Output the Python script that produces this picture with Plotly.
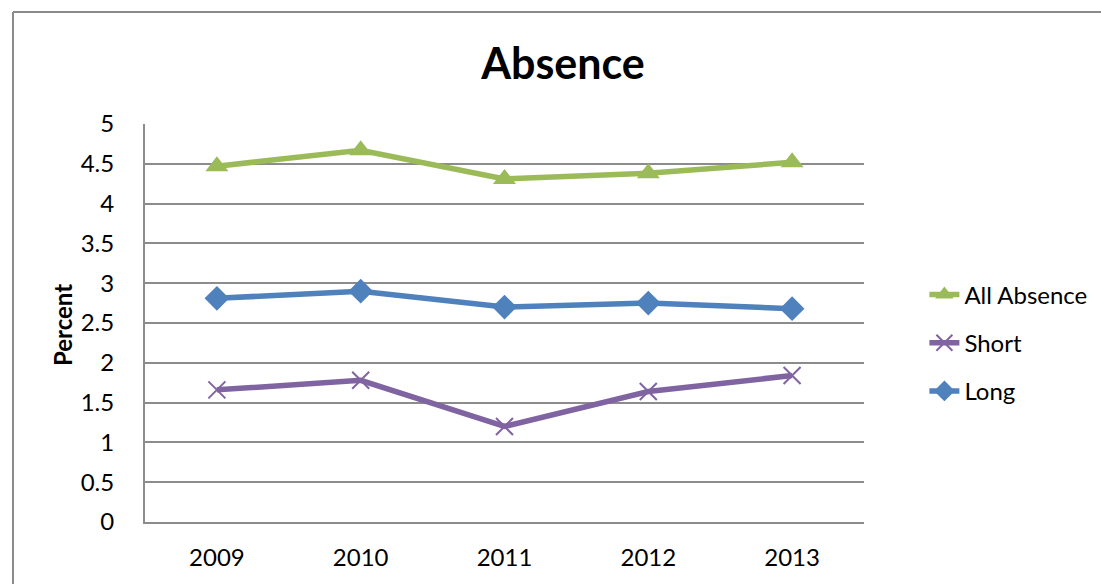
import plotly.graph_objects as go

years = ["2009", "2010", "2011", "2012", "2013"]
all_absence = [4.47, 4.67, 4.31, 4.38, 4.52]
short_abs = [1.66, 1.78, 1.20, 1.64, 1.84]
long_abs = [2.81, 2.90, 2.70, 2.75, 2.68]
y_ticks = [0, 0.5, 1, 1.5, 2, 2.5, 3, 3.5, 4, 4.5, 5]
y_labels = ["0", "0.5", "1", "1.5", "2", "2.5", "3", "3.5", "4", "4.5", "5"]

GREEN = "#9BBB59"
PURPLE = "#8064A2"
BLUE = "#4F81BD"
GRID = "#8C8C8C"
FONT = "Lato, 'Open Sans', sans-serif"

fig = go.Figure()
fig.add_trace(go.Scatter(
    x=years, y=all_absence, name="All Absence", mode="lines+markers",
    legendgroup="a",
    line=dict(color=GREEN, width=5.5),
    marker=dict(symbol="triangle-up", size=20, color=GREEN),
))
fig.add_trace(go.Scatter(
    x=years, y=short_abs, name="Short", mode="lines+markers",
    legendgroup="s",
    line=dict(color=PURPLE, width=5.5),
    marker=dict(symbol="x-thin", size=17, color=PURPLE,
                line=dict(color=PURPLE, width=2)),
))
fig.add_trace(go.Scatter(
    x=years, y=long_abs, name="Long", mode="lines+markers",
    legendgroup="l",
    line=dict(color=BLUE, width=5.5),
    marker=dict(symbol="diamond", size=19, color=BLUE),
))

# chart frame (left and top edges visible)
fl, ft = -0.1836, 1.2814
fig.add_shape(type="line", xref="paper", yref="paper", x0=fl, x1=fl, y0=-0.3, y1=ft,
              line=dict(color="#8A8A8A", width=2))
fig.add_shape(type="line", xref="paper", yref="paper", x0=fl, x1=1.5, y0=ft, y1=ft,
              line=dict(color="#8A8A8A", width=2))

# y-axis title
fig.add_annotation(text="<b>Percent</b>", xref="paper", yref="paper",
                   x=-0.114, y=0.495, xanchor="center", yanchor="middle",
                   textangle=-90, showarrow=False,
                   font=dict(family=FONT, size=24, color="black"))

fig.update_layout(
    width=1101, height=584,
    margin=dict(l=145, r=237, t=124, b=62, autoexpand=False),
    paper_bgcolor="white", plot_bgcolor="white",
    font=dict(family=FONT, color="black", size=24),
    title=dict(text="<b>Absence</b>", x=563 / 1101, xanchor="center",
               y=1 - 64 / 584, yanchor="middle",
               font=dict(family=FONT, size=43, color="black")),
    showlegend=True,
    legend=dict(x=1.084, xanchor="left", y=0.45, yanchor="middle",
                font=dict(family=FONT, size=24, color="black"),
                tracegroupgap=14, bgcolor="rgba(0,0,0,0)",
                itemsizing="trace"),
    xaxis=dict(
        type="category", range=[-0.5, 4.5], automargin=False,
        showgrid=False, showline=True, linecolor=GRID, linewidth=2,
        ticks="", ticklabelstandoff=13,
        tickfont=dict(family=FONT, size=24, color="black"),
    ),
    yaxis=dict(
        range=[0, 5], tickvals=y_ticks, ticktext=y_labels, automargin=False,
        showgrid=True, gridcolor=GRID, gridwidth=1.5,
        showline=True, linecolor=GRID, linewidth=2,
        zeroline=False, ticks="", ticklabelstandoff=24,
        tickfont=dict(family=FONT, size=24, color="black"),
    ),
)

fig.write_html("out.html")
